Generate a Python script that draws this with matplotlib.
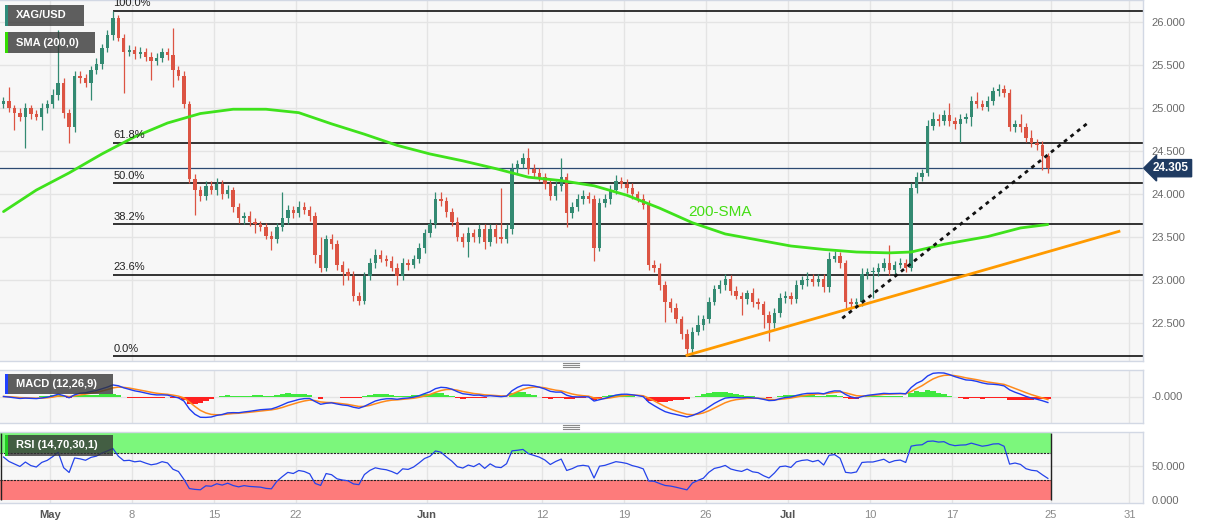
import numpy as np
import matplotlib
matplotlib.use('Agg')
import matplotlib.pyplot as plt
from matplotlib.patches import Rectangle
from matplotlib.lines import Line2D
from matplotlib.transforms import blended_transform_factory

plt.rcParams['font.family'] = ['Liberation Sans', 'DejaVu Sans']

# ---------------- data (8-hour candles) ----------------
first_open = 25.05
closes = [
    25.08, 25.00, 24.95, 24.90, 25.00, 24.93, 24.90, 25.00, 25.05, 25.15,
    25.30, 24.95, 24.78, 25.38, 25.35, 25.30, 25.45, 25.52, 25.70, 25.85,
    26.05, 25.82, 25.66, 25.68, 25.63, 25.66, 25.60, 25.55, 25.58, 25.65,
    25.62, 25.45, 25.38, 25.05, 24.18, 24.05, 23.98, 24.10, 24.05, 24.12,
    24.00, 24.05, 23.85, 23.72, 23.75, 23.68, 23.65, 23.62, 23.52, 23.48,
    23.62, 23.72, 23.82, 23.78, 23.85, 23.82, 23.75, 23.30, 23.15, 23.48,
    23.42, 23.18, 23.10, 23.05, 22.82, 22.76, 23.05, 23.20, 23.30, 23.25,
    23.22, 23.15, 23.05, 23.20, 23.18, 23.25, 23.38, 23.55, 23.65, 23.95,
    23.92, 23.80, 23.68, 23.50, 23.45, 23.55, 23.50, 23.60, 23.45, 23.60,
    23.50, 23.48, 23.60, 24.30, 24.35, 24.42, 24.30, 24.25, 24.20, 24.12,
    23.98, 24.10, 24.20, 23.78, 23.85, 23.95, 23.98, 23.95, 23.38, 23.90,
    23.95, 24.05, 24.15, 24.12, 24.08, 24.00, 23.95, 23.88, 23.18, 23.15,
    22.95, 22.75, 22.68, 22.55, 22.38, 22.20, 22.40, 22.48, 22.55, 22.75,
    22.90, 22.95, 23.02, 22.88, 22.82, 22.78, 22.85, 22.75, 22.72, 22.60,
    22.50, 22.62, 22.80, 22.82, 22.78, 22.95, 23.00, 23.02, 22.98, 23.02,
    22.92, 23.25, 23.28, 23.20, 22.75, 22.72, 22.75, 23.08, 23.10, 23.10,
    23.15, 23.20, 23.12, 23.18, 23.20, 23.15, 24.08, 24.20, 24.25, 24.80,
    24.88, 24.85, 24.92, 24.85, 24.82, 24.88, 24.90, 25.08, 25.05, 25.02,
    25.08, 25.20, 25.22, 25.18, 24.78, 24.82, 24.78, 24.65, 24.60, 24.58,
    24.45, 24.305,
]
upper_wick = [
    0.05, 0.17, 0.04, 0.05, 0.06, 0.04, 0.05, 0.06, 0.05, 0.07,
    0.61, 0.05, 0.04, 0.05, 0.06, 0.05, 0.04, 0.06, 0.05, 0.06,
    0.085, 0.04, 0.05, 0.06, 0.04, 0.05, 0.04, 0.05, 0.06, 0.05,
    0.05, 0.31, 0.04, 0.05, 0.04, 0.06, 0.05, 0.06, 0.05, 0.07,
    0.05, 0.06, 0.04, 0.05, 0.04, 0.06, 0.05, 0.04, 0.05, 0.06,
    0.05, 0.31, 0.06, 0.05, 0.07, 0.06, 0.05, 0.04, 0.20, 0.05,
    0.06, 0.05, 0.04, 0.05, 0.06, 0.04, 0.05, 0.06, 0.07, 0.05,
    0.04, 0.06, 0.05, 0.06, 0.05, 0.04, 0.06, 0.05, 0.06, 0.08,
    0.08, 0.05, 0.04, 0.06, 0.05, 0.07, 0.05, 0.06, 0.05, 0.06,
    0.05, 0.57, 0.05, 0.06, 0.05, 0.06, 0.12, 0.05, 0.06, 0.05,
    0.05, 0.06, 0.22, 0.05, 0.06, 0.05, 0.07, 0.05, 0.04, 0.06,
    0.05, 0.06, 0.07, 0.05, 0.06, 0.05, 0.04, 0.06, 0.05, 0.06,
    0.05, 0.04, 0.05, 0.06, 0.04, 0.05, 0.06, 0.12, 0.05, 0.06,
    0.05, 0.06, 0.05, 0.04, 0.06, 0.05, 0.04, 0.06, 0.05, 0.04,
    0.05, 0.06, 0.05, 0.06, 0.05, 0.06, 0.05, 0.08, 0.05, 0.06,
    0.05, 0.08, 0.06, 0.05, 0.04, 0.05, 0.04, 0.06, 0.05, 0.06,
    0.05, 0.06, 0.21, 0.05, 0.06, 0.05, 0.05, 0.06, 0.05, 0.06,
    0.08, 0.05, 0.06, 0.14, 0.05, 0.06, 0.05, 0.06, 0.11, 0.05,
    0.06, 0.05, 0.06, 0.05, 0.04, 0.05, 0.12, 0.05, 0.10, 0.04,
    0.04, 0.03,
]
lower_wick = [
    0.05, 0.04, 0.20, 0.05, 0.36, 0.05, 0.04, 0.15, 0.05, 0.04,
    0.05, 0.06, 0.18, 0.05, 0.06, 0.05, 0.20, 0.05, 0.06, 0.04,
    0.05, 0.04, 0.48, 0.05, 0.06, 0.04, 0.05, 0.22, 0.05, 0.04,
    0.06, 0.20, 0.05, 0.04, 0.05, 0.29, 0.06, 0.05, 0.04, 0.06,
    0.05, 0.04, 0.06, 0.05, 0.06, 0.05, 0.10, 0.05, 0.04, 0.13,
    0.05, 0.04, 0.06, 0.05, 0.04, 0.05, 0.06, 0.10, 0.05, 0.04,
    0.05, 0.06, 0.15, 0.05, 0.06, 0.05, 0.04, 0.05, 0.06, 0.04,
    0.05, 0.04, 0.10, 0.05, 0.06, 0.04, 0.05, 0.06, 0.05, 0.04,
    0.05, 0.06, 0.05, 0.04, 0.06, 0.18, 0.05, 0.06, 0.08, 0.05,
    0.06, 0.04, 0.05, 0.06, 0.05, 0.04, 0.06, 0.05, 0.04, 0.06,
    0.05, 0.04, 0.06, 0.16, 0.05, 0.04, 0.06, 0.05, 0.15, 0.04,
    0.05, 0.06, 0.04, 0.05, 0.06, 0.05, 0.04, 0.05, 0.06, 0.05,
    0.06, 0.23, 0.05, 0.04, 0.06, 0.08, 0.05, 0.04, 0.06, 0.05,
    0.04, 0.05, 0.06, 0.05, 0.04, 0.18, 0.05, 0.06, 0.05, 0.15,
    0.20, 0.05, 0.04, 0.06, 0.05, 0.04, 0.05, 0.06, 0.05, 0.04,
    0.06, 0.05, 0.04, 0.06, 0.09, 0.05, 0.04, 0.05, 0.06, 0.30,
    0.05, 0.04, 0.06, 0.05, 0.04, 0.05, 0.04, 0.06, 0.05, 0.04,
    0.05, 0.06, 0.04, 0.05, 0.06, 0.21, 0.05, 0.10, 0.05, 0.04,
    0.05, 0.04, 0.06, 0.05, 0.04, 0.05, 0.06, 0.04, 0.05, 0.06,
    0.17, 0.06,
]
# 200-period SMA, read at every 6th candle
sma_idx = [0, 6, 12, 18, 24, 30, 36, 42, 48, 54, 60, 66, 72, 78, 84, 90, 96, 102,
           108, 114, 120, 126, 132, 138, 144, 150, 156, 162, 166, 172, 180, 186, 191]
sma_vals = [23.80, 24.05, 24.25, 24.47, 24.67, 24.83, 24.94, 24.99, 24.99, 24.95,
            24.82, 24.70, 24.57, 24.47, 24.39, 24.30, 24.20, 24.16, 24.10, 23.99,
            23.84, 23.67, 23.54, 23.47, 23.40, 23.36, 23.33, 23.32, 23.33, 23.42,
            23.51, 23.61, 23.65]
swing_high, swing_low = 26.135, 22.12
swing_high_idx = 20
fib_ratios = [1.0, 0.618, 0.5, 0.382, 0.236, 0.0]
fib_labels = ['100.0%', '61.8%', '50.0%', '38.2%', '23.6%', '0.0%']
support_line_x = [125.0, 204.0]
support_line_y = [22.13, 23.57]
dashed_line_x = [153.4, 198.3]
dashed_line_y = [22.56, 24.83]
last_price = 24.305
tick_days = [0, 5, 10, 15, 23, 30, 35, 40, 45, 50, 55, 61, 65.8]
tick_labels = ['May', '8', '15', '22', 'Jun', '12', '19', '26', 'Jul', '10', '17', '25', '31']
month_labels = {'May', 'Jun', 'Jul'}

# ---------------- derived ----------------
c = np.array(closes)
o = np.concatenate([[first_open], c[:-1]])
hi = np.maximum(o, c) + np.array(upper_wick)
lo = np.minimum(o, c) - np.array(lower_wick)
n = len(c)
idx = np.arange(n)

def ema(x, span):
    a = 2.0 / (span + 1.0)
    out = np.empty_like(x)
    out[0] = x[0]
    for i in range(1, len(x)):
        out[i] = a * x[i] + (1 - a) * out[i - 1]
    return out

# 8h bars -> periods adapted from the 4h chart settings (12,26,9 / 14)
macd = ema(c, 6) - ema(c, 13)
signal = ema(macd, 4.5)
hist = macd - signal

per = 10
d = np.diff(c, prepend=c[0])
g = np.clip(d, 0, None)
l = np.clip(-d, 0, None)
ag = g[1:per + 1].mean()
al = l[1:per + 1].mean()
rsi = np.empty(n)
for i in range(n):
    if i > 0:
        ag = (ag * (per - 1) + g[i]) / per
        al = (al * (per - 1) + l[i]) / per
    rsi[i] = 100 - 100 / (1 + ag / max(al, 1e-9))

# ---------------- figure ----------------
W, H = 1207, 526
fig = plt.figure(figsize=(W / 100, H / 100), dpi=100)
fig.patch.set_facecolor('white')

def fx(px):
    return px / W

def fy(py):
    return 1 - py / H

XR = 1143
ax = fig.add_axes([0, fy(361), fx(XR), fy(0) - fy(361)])
axm = fig.add_axes([0, fy(423), fx(XR), fy(370) - fy(423)])
axr = fig.add_axes([0, fy(503), fx(XR), fy(432) - fy(503)])

xlim = (-0.64, 208.4)
tick_pos = [8.5 + 3 * t for t in tick_days]
grid_c = '#e4e4e4'
spine_c = '#d2d8e4'

for a in (ax, axm, axr):
    a.set_facecolor('#f7f7f7')
    a.set_xlim(*xlim)
    a.set_xticks(tick_pos)
    a.grid(True, color=grid_c, lw=1)
    a.set_axisbelow(True)
    for s in a.spines.values():
        s.set_color(spine_c)
        s.set_linewidth(1)
    a.spines['left'].set_visible(False)
    a.yaxis.tick_right()
    a.tick_params(length=0, labelsize=8, labelcolor='#6a6a6a', pad=6)

ax.set_xticklabels([])
axm.set_xticklabels([])

# main panel
ax.set_ylim(22.063, 26.26)
ax.set_yticks(np.arange(22.5, 26.01, 0.5))
ax.set_yticklabels([f'{v:.3f}' for v in np.arange(22.5, 26.01, 0.5)])

up_c, dn_c = '#338a72', '#dc5443'
cols = np.where(c >= o, up_c, dn_c)
ax.vlines(idx, lo, hi, colors=cols, lw=0.9, zorder=3)
body = np.where(np.abs(c - o) < 0.012, 0.012, c - o)
ax.bar(idx, body, bottom=o, width=0.62, color=cols, edgecolor='none', zorder=4)

ax.plot(sma_idx, sma_vals, color='#3fe21c', lw=2.0, zorder=5, solid_capstyle='round')

rng = swing_high - swing_low
for r, lab in zip(fib_ratios, fib_labels):
    lev = swing_low + r * rng
    ax.hlines(lev, swing_high_idx, xlim[1], color='#111111', lw=1.2, zorder=2)
    ax.text(swing_high_idx + 0.1, lev + 0.03, lab, fontsize=8, color='#222222',
            ha='left', va='bottom', zorder=6, clip_on=False)

ax.axhline(last_price, color='#2c4a72', lw=0.9, zorder=2)
ax.plot(support_line_x, support_line_y, color='#ff9a00', lw=2.0, zorder=5)
ax.plot(dashed_line_x, dashed_line_y, color='#111111', lw=2.0, zorder=6,
        linestyle=(0, (1.4, 1.6)))
ax.text(125.2, 23.80, '200-SMA', color='#44dd14', fontsize=11, ha='left', va='center', zorder=6)

trans = blended_transform_factory(ax.transAxes, ax.transData)
ax.text(1 + 10 / XR, last_price, f'{last_price:.3f}', transform=trans, fontsize=8.5,
        fontweight='bold', color='white', ha='left', va='center', clip_on=False, zorder=20,
        bbox=dict(boxstyle='larrow,pad=0.22', fc='#1f3b62', ec='#1f3b62'))

# MACD panel
M = max(np.abs(macd).max(), np.abs(signal).max()) * 1.12
axm.set_ylim(-M, M)
axm.set_yticks([0])
axm.set_yticklabels(['-0.000'])
axm.bar(idx, hist, width=1.0, color=np.where(hist >= 0, '#3fe83f', '#ff2020'),
        edgecolor='none', zorder=2)
axm.plot(idx, signal, color='#ff8a1c', lw=1.1, zorder=3)
axm.plot(idx, macd, color='#1f3cf0', lw=1.0, zorder=4)

# RSI panel
axr.set_ylim(-4.5, 101.5)
axr.set_yticks([0, 50])
axr.set_yticklabels(['0.000', '50.000'])
axr.grid(False, axis='y')
axr.axhline(50, color=grid_c, lw=1, zorder=0)
x_end = n - 1 + 0.5
axr.fill_between([xlim[0], x_end], 70, 100, color='#7cf77c', lw=0, zorder=1)
axr.fill_between([xlim[0], x_end], 0, 30, color='#fd7b7b', lw=0, zorder=1)
axr.hlines([30, 70], xlim[0], x_end, color='#222222', lw=0.8, linestyle=(0, (2, 1)), zorder=2)
axr.vlines([x_end], 0, 100, color='#222222', lw=1, zorder=2)
axr.vlines([xlim[0] + 0.15], 0, 100, color='#222222', lw=1, zorder=2)
axr.plot(idx, rsi, color='#2443ea', lw=0.9, zorder=3)

axr.set_xticklabels(tick_labels)
axr.tick_params(axis='x', pad=5)
for t in axr.get_xticklabels():
    if t.get_text() in month_labels:
        t.set_fontweight('bold')
        t.set_color('#555555')
    else:
        t.set_color('#8a8a8a')

# legend boxes
def label_box(x0, y0, w, h, text, stripe):
    fig.add_artist(Rectangle((fx(x0), fy(y0 + h)), fx(w), h / H, transform=fig.transFigure,
                             facecolor='#333333', alpha=0.78, edgecolor='none', zorder=30))
    fig.add_artist(Rectangle((fx(x0), fy(y0 + h)), fx(3), h / H, transform=fig.transFigure,
                             facecolor=stripe, edgecolor='none', zorder=31))
    fig.text(fx(x0 + 11), fy(y0 + h / 2), text, color='white', fontsize=8, fontweight='bold',
             ha='left', va='center', zorder=32)

label_box(5, 5, 79, 21, 'XAG/USD', '#2e8b7a')
label_box(5, 32, 90, 21, 'SMA (200,0)', '#33dd00')
label_box(5, 374, 108, 20, 'MACD (12,26,9)', '#2040ff')
label_box(5, 435, 108, 21, 'RSI (14,70,30,1)', '#22cc22')

# panel handles
for yy in (365, 427):
    for dy in (-2, 0, 2):
        fig.add_artist(Line2D([fx(563), fx(579)], [fy(yy + dy), fy(yy + dy)],
                              transform=fig.transFigure, color='#8a8a8a', lw=0.8))

fig.savefig('out.png', dpi=100, facecolor='white')
